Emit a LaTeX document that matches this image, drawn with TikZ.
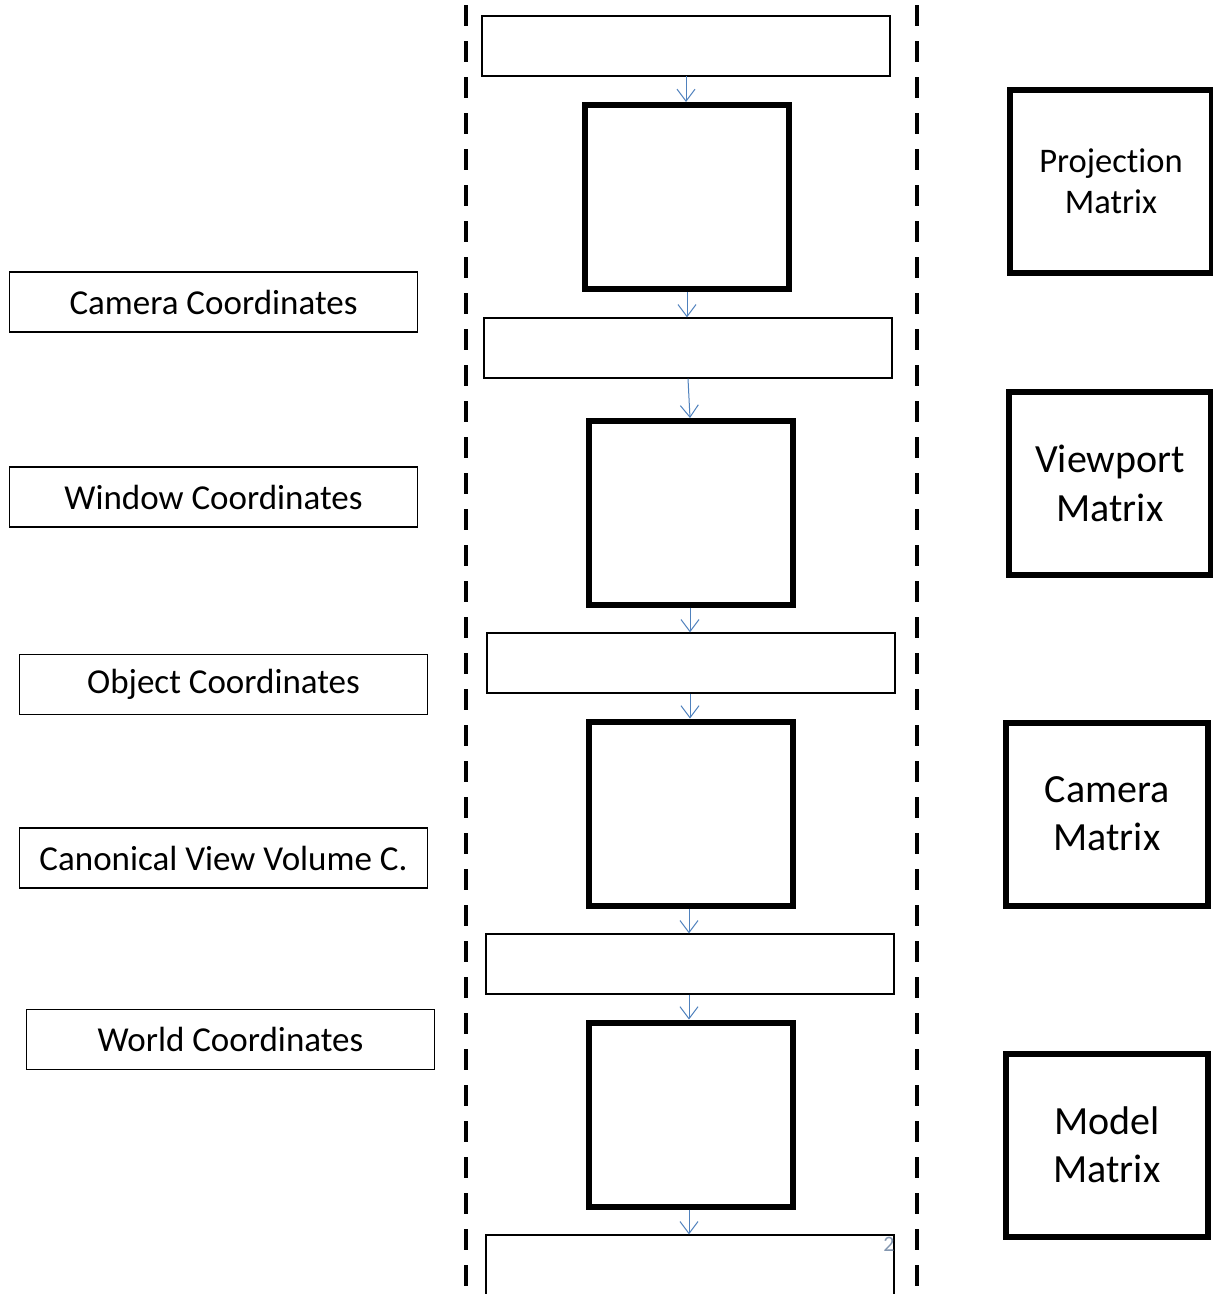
\documentclass[tikz,border=0pt]{standalone}
\usepackage{fontspec}
\setmainfont{Carlito}[Ligatures=NoCommon]
\usetikzlibrary{arrows.meta}
\definecolor{arrowblue}{HTML}{4F81BD}
\definecolor{pagenum}{HTML}{8497B0}
\tikzset{
  x=1pt, y=-1pt,
  thinbox/.style={draw=black, line width=1.3pt, fill=white, minimum width=408pt, minimum height=60pt, inner sep=0pt, font=\fontsize{35}{42}\selectfont},
  thickbox/.style={draw=black, line width=6pt, fill=white, minimum width=204pt, minimum height=184pt, inner sep=0pt},
  matbox/.style={draw=black, line width=6pt, fill=white, minimum width=202pt, minimum height=183pt, inner sep=0pt, align=center},
  flow/.style={draw=arrowblue, line width=1pt, -{Straight Barb[length=12pt, width=18pt, line width=1pt]}},
  divider/.style={line width=4pt, dash pattern=on 21pt off 15pt},
}
\begin{document}
\begin{tikzpicture}
\useasboundingbox (0,0) rectangle (1213,1294);
\fill[white] (0,0) rectangle (1213,1294);
% dividers
\draw[divider] (466,5) -- (466,1294);
\draw[divider] (917,5) -- (917,1294);
% central column
\node[thinbox] (w1) at (686,46) {};
\node[thickbox] (t1) at (687,197) {};
\node[thinbox] (w2) at (688,348) {};
\node[thickbox] (t2) at (691,512.5) {};
\node[thinbox] (w3) at (691,663) {};
\node[thickbox] (t3) at (691,813.5) {};
\node[thinbox] (w4) at (690,964) {};
\node[thickbox] (t4) at (691,1114.5) {};
\node[thinbox, minimum height=80pt] (w5) at (690,1275) {};
\draw[flow] (686,76) -- (t1.north -| 686,0);
\draw[flow] (t1.south -| 687,0) -- (w2.north -| 687,0);
\draw[flow] (w2.south) -- (690,418);
\draw[flow] (t2.south -| 690,0) -- (w3.north -| 690,0);
\draw[flow] (w3.south -| 690,0) -- (t3.north -| 690,0);
\draw[flow] (t3.south -| 689,0) -- (w4.north -| 689,0);
\draw[flow] (w4.south -| 689,0) -- (t4.north -| 689,0);
\draw[flow] (t4.south -| 689,0) -- (w5.north -| 689,0);
\node[text=pagenum, font=\fontsize{22}{26}\selectfont] (pg) at (889,1244) {2};
% left labels
\node[thinbox] (camc) at (213.5,302) {Camera Coordinates};
\node[thinbox] (winc) at (213.5,497) {Window Coordinates};
\node[thinbox] (objc) at (223.5,684.5) {Object Coordinates};
\node[thinbox] (canc) at (223.5,858) {Canonical View Volume C.};
\node[thinbox] (worc) at (230.5,1039.5) {World Coordinates};
% right matrices
\node[matbox, font=\fontsize{34.5}{41}\selectfont] (proj) at (1111,181.5) {Projection\\Matrix};
\node[matbox, font=\fontsize{40}{49}\selectfont] (view) at (1110,483) {Viewport\\Matrix};
\node[matbox, font=\fontsize{40}{48}\selectfont] (camm) at (1107,814) {Camera\\Matrix};
\node[matbox, font=\fontsize{40}{48}\selectfont] (modm) at (1107,1145) {Model\\Matrix};
\end{tikzpicture}
\end{document}
